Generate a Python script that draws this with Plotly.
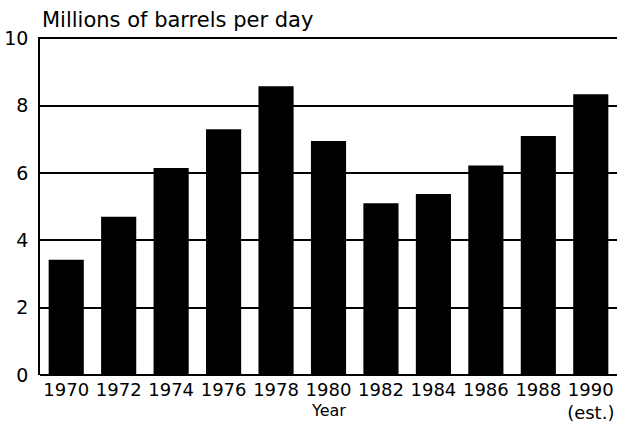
import plotly.graph_objects as go

years = ["1970", "1972", "1974", "1976", "1978", "1980", "1982", "1984", "1986", "1988", "1990"]
tick_labels = ["1970", "1972", "1974", "1976", "1978", "1980", "1982", "1984", "1986", "1988", "1990<br>(est.)"]
values = [3.42, 4.7, 6.15, 7.3, 8.58, 6.95, 5.1, 5.38, 6.22, 7.1, 8.34]
y_ticks = [0, 2, 4, 6, 8, 10]

FONT = "DejaVu Sans"

fig = go.Figure(go.Bar(x=years, y=values, marker=dict(color="black", line=dict(width=0)), width=0.67))

fig.update_layout(
    width=617, height=424,
    margin=dict(l=40, r=0, t=37, b=49, autoexpand=False),
    paper_bgcolor="white", plot_bgcolor="white",
    showlegend=False,
    font=dict(family=FONT, color="black"),
    bargap=0.33,
)
fig.update_xaxes(
    tickmode="array", tickvals=years, ticktext=tick_labels,
    tickfont=dict(size=18, family=FONT, color="black"),
    showgrid=False, showline=False, ticks="", ticklen=0, automargin=False,
    ticklabelstandoff=2,
)
fig.update_yaxes(
    range=[0, 10.04], tickvals=y_ticks, ticktext=[str(v) for v in y_ticks],
    tickfont=dict(size=19, family=FONT, color="black"),
    showgrid=True, gridcolor="black", gridwidth=1.5,
    zeroline=True, zerolinecolor="black", zerolinewidth=1.5,
    showline=True, linecolor="black", linewidth=1.5,
    ticks="", ticklabelstandoff=6, automargin=False,
)
fig.add_annotation(text="Millions of barrels per day", xref="paper", yref="paper",
                   x=0.0, y=1.0, xanchor="left", yanchor="bottom", yshift=3,
                   showarrow=False, font=dict(size=21, family=FONT, color="black"))
fig.add_annotation(text="Year", xref="paper", yref="paper",
                   x=0.5, y=-0.072, xanchor="center", yanchor="top",
                   showarrow=False, font=dict(size=16, family=FONT, color="black"))

fig.write_html("out.html", config={"displayModeBar": False},
               post_script="document.body.style.margin='0';")
